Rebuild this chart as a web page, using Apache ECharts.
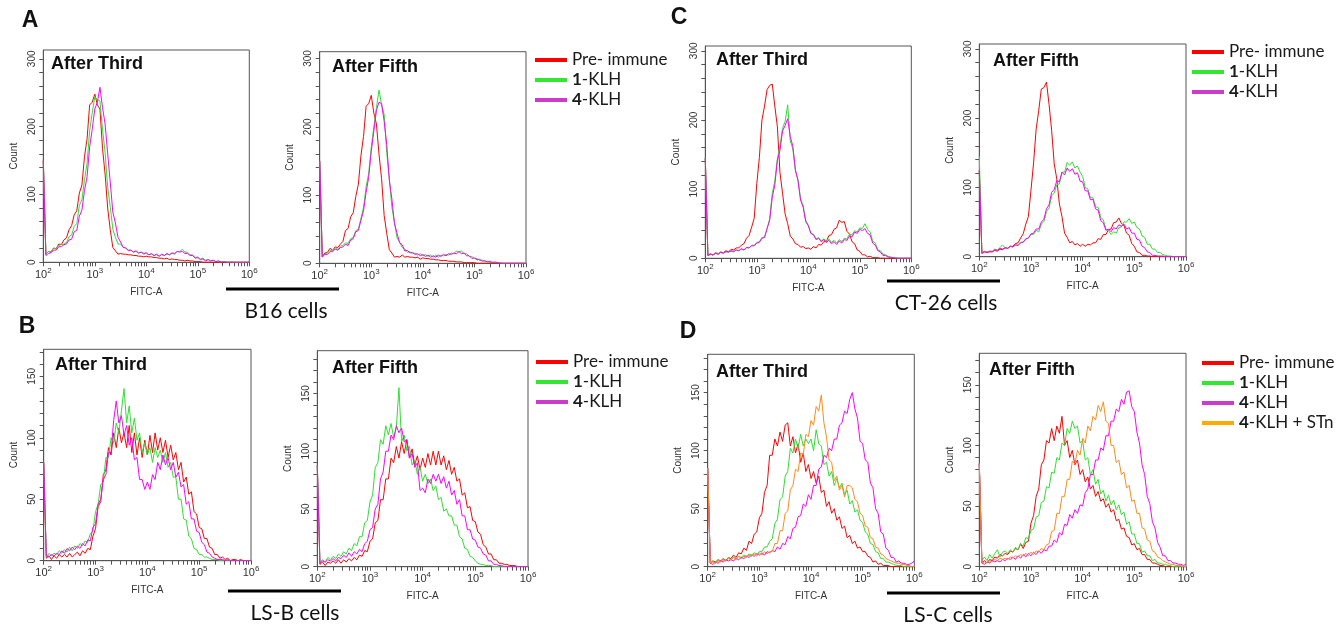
<!DOCTYPE html>
<html><head><meta charset="utf-8">
<script src="https://cdn.jsdelivr.net/npm/echarts@6/dist/echarts.min.js"></script>
<style>html,body{margin:0;padding:0;background:#fff;}#chart{width:1344px;height:627px;}</style>
</head><body><div id="chart"></div>
<script>
// Channel positions (log10 of FITC-A intensity)
const logChannels = [
2.00,2.05,2.10,2.15,2.20,2.25,2.30,2.35,2.40,2.45,
2.50,2.55,2.60,2.65,2.70,2.75,2.80,2.85,2.90,2.95,
3.00,3.05,3.10,3.15,3.20,3.25,3.30,3.35,3.40,3.45,
3.50,3.55,3.60,3.65,3.70,3.75,3.80,3.85,3.90,3.95,
4.00,4.05,4.10,4.15,4.20,4.25,4.30,4.35,4.40,4.45,
4.50,4.55,4.60,4.65,4.70,4.75,4.80,4.85,4.90,4.95,
5.00,5.05,5.10,5.15,5.20,5.25,5.30,5.35,5.40,5.45,
5.50,5.55,5.60,5.65,5.70,5.75,5.80,5.85,5.90,5.95,
6.00];
const xDecades = [2,3,4,5,6];
const countTicksHigh = [0,100,200,300];
const countTicksLow = [0,50,100,150];
const seriesNames = ['Pre- immune','1-KLH','4-KLH','4-KLH + STn'];
const panelTitles = ['After Third','After Fifth'];
const panelLetters = ['A','B','C','D'];
const cellLines = ['B16 cells','LS-B cells','CT-26 cells','LS-C cells'];

// A: B16 cells
const aThirdPre = [150,12,16,15,21,20,27,26,33,36, 48,54,70,76,102,114,156,182,232,236, 248,232,226,168,130,80,48,22,17,12, 13,12,12,11,11,10,10,9,9,8, 9,8,8,7,7,6,6,5,6,4, 5,4,4,3,3,2,3,2,2,1, 1,1,0,0,0,0,0,0,0,0, 0,0,0,0,0,0,0,0,0,0, 0];
const aThirdK1 = [150,12,16,15,21,20,25,26,27,29, 38,40,53,57,84,92,122,146,194,220, 244,240,238,196,162,111,82,49,37,27, 27,22,22,18,18,15,16,13,15,12, 13,11,12,10,11,9,11,10,12,11, 13,12,16,16,19,15,15,11,11,7, 8,5,6,3,4,2,3,1,2,1, 1,1,0,1,0,0,0,0,0,0, 0];
const aThirdK4 = [150,10,13,14,18,18,23,23,26,27, 33,34,45,47,68,77,106,126,170,196, 226,236,258,228,204,160,118,74,58,37, 30,22,21,17,18,15,17,14,15,13, 14,11,13,10,12,9,12,10,13,11, 14,13,16,15,16,13,13,10,10,6, 7,4,5,2,4,2,3,1,2,0, 1,0,0,0,0,0,0,0,0,0, 0];
const aFifthPre = [150,10,15,16,22,19,24,23,28,32, 48,51,68,74,98,116,158,186,230,234, 246,220,204,160,124,70,44,20,15,9, 10,9,12,9,10,9,9,8,9,6, 8,7,7,6,6,5,5,4,4,4, 3,3,3,2,2,2,1,1,1,1, 1,0,0,0,0,0,0,0,0,0, 0,0,0,0,0,0,0,0,0,0, 0];
const aFifthK1 = [150,10,14,15,19,19,23,20,25,26, 30,29,36,38,48,50,66,82,112,132, 170,200,228,254,232,218,162,124,82,60, 37,31,23,21,16,17,14,15,12,14, 11,13,10,12,9,12,9,12,11,13, 12,15,14,18,17,18,14,14,10,10, 7,7,4,5,2,3,1,2,1,1, 1,0,0,0,0,0,0,0,0,0, 0];
const aFifthK4 = [150,9,13,13,17,17,21,19,23,24, 28,26,34,36,46,48,63,77,104,126, 164,194,224,236,234,208,174,122,94,58, 44,30,27,18,19,15,16,13,14,11, 13,10,12,9,11,9,12,10,13,11, 14,13,15,14,17,14,15,11,11,7, 8,5,6,3,4,2,3,1,2,1, 0,0,0,0,0,0,0,0,0,0, 0];

// C: CT-26 cells
const cThirdPre = [145,4,6,5,8,6,9,8,11,9, 13,12,15,15,19,21,29,33,45,58, 108,146,200,220,244,250,252,220,190,124, 94,64,50,32,28,21,20,16,17,14, 15,13,17,15,20,19,24,24,33,34, 42,44,55,52,53,39,35,24,21,12, 10,5,5,2,3,1,1,1,0,0, 0,0,0,0,0,0,0,0,0,0, 0];
const cThirdK1 = [145,5,7,4,8,7,8,8,9,9, 10,9,12,11,13,12,15,15,19,19, 23,24,30,31,43,57,94,112,144,162, 188,198,222,170,158,126,114,86,76,55, 48,36,35,28,30,25,28,25,28,23, 26,22,27,24,29,28,35,34,40,38, 44,43,50,42,38,25,22,12,11,6, 5,3,2,1,1,0,0,0,0,0, 0];
const cThirdK4 = [145,4,6,5,7,6,9,7,10,9, 11,10,12,11,14,12,16,15,18,18, 22,23,29,30,43,55,88,106,142,156, 184,192,202,176,162,128,112,84,74,53, 47,36,34,27,29,24,27,23,26,21, 24,20,25,22,27,26,32,31,38,36, 42,40,43,36,34,22,19,11,9,4, 4,2,1,1,0,0,0,0,0,0, 0];
const cFifthPre = [125,5,7,6,7,7,9,8,11,10, 13,12,15,15,19,20,27,33,47,58, 96,135,184,211,242,244,252,220,182,134, 112,76,58,34,28,20,22,17,19,15, 18,15,18,17,20,20,26,25,32,32, 39,40,49,50,56,48,45,34,31,19, 15,7,6,2,2,1,1,0,0,0, 0,0,0,0,0,0,0,0,0,0, 0];
const cFifthK1 = [145,6,8,7,8,8,11,10,13,17, 13,12,15,14,17,17,21,21,25,27, 32,32,38,36,47,51,65,70,88,92, 104,105,122,122,136,132,137,128,131,122, 116,100,98,85,85,72,71,57,53,40, 38,32,36,34,42,43,50,50,55,48, 50,42,40,30,28,18,18,11,11,6, 6,3,2,1,1,0,0,0,0,0, 0];
const cFifthK4 = [125,5,7,6,8,7,10,9,12,11, 13,12,15,14,17,16,20,21,26,27, 33,34,40,40,50,54,69,75,93,97, 110,108,122,118,128,123,127,119,121,109, 108,95,95,82,83,69,67,52,49,38, 40,36,42,40,46,44,47,40,42,34, 34,25,24,15,13,7,6,2,2,1, 1,1,0,0,0,0,0,0,0,0, 0];

// B: LS-B cells
const bThirdPre = [80,2,4,1,4,2,5,3,5,3, 6,3,5,7,4,8,6,10,9,20, 26,44,48,70,74,92,86,104,92,108, 96,104,92,110,88,104,86,100,84,98, 86,102,88,104,90,100,88,98,84,94, 82,88,74,80,64,68,54,56,40,38, 27,26,18,18,11,10,5,5,2,3, 1,2,0,1,1,0,1,0,0,0, 0];
const bThirdK1 = [80,3,6,4,6,5,8,6,9,7, 11,8,12,10,14,12,16,15,22,24, 40,46,62,64,84,84,100,96,112,104, 122,140,112,126,104,116,98,104,88,96, 86,92,80,92,84,90,80,88,76,80, 68,68,50,50,34,33,20,18,10,9, 5,5,3,3,2,1,1,1,0,0, 0,0,0,0,0,0,0,0,0,0, 0];
const bThirdK4 = [80,4,3,5,4,6,5,8,6,10, 8,11,9,12,10,14,12,17,16,27, 30,46,50,66,70,88,88,114,130,112, 118,102,110,94,100,82,84,66,66,58, 64,58,70,66,80,74,86,78,84,74, 80,68,72,60,62,46,48,34,34,24, 23,15,13,7,6,3,2,1,1,1, 0,1,0,0,0,0,0,0,0,0, 0];
const bFifthPre = [88,2,4,1,4,3,5,3,6,3, 6,4,7,5,8,6,10,9,14,13, 22,24,38,40,58,58,76,76,94,90, 104,94,108,98,110,94,102,88,96,84, 94,86,98,88,100,88,100,88,96,84, 92,80,86,74,76,62,64,51,52,40, 39,30,28,19,17,11,11,6,6,3, 3,2,2,1,1,1,0,0,0,0, 0];
const bFifthK1 = [88,4,6,4,8,6,9,7,11,9, 13,11,16,14,20,18,26,26,38,40, 56,62,86,90,110,106,122,114,124,112, 120,155,108,114,100,104,88,92,80,86, 74,80,72,76,66,70,58,60,48,50, 44,44,36,36,26,24,16,15,9,8, 5,3,2,2,1,1,1,0,0,0, 0,0,0,0,0,0,0,0,0,0, 0];
const bFifthK4 = [88,3,5,4,6,5,7,5,8,7, 10,8,12,9,13,11,15,13,20,22, 32,34,50,54,76,82,100,100,114,110, 122,116,120,108,110,94,98,86,90,66, 68,64,76,72,80,74,80,72,78,68, 74,62,66,54,58,44,44,32,32,24, 23,17,16,11,10,5,5,2,2,1, 1,0,0,0,0,0,0,0,0,0, 0];

// D: LS-C cells
const dThirdPre = [85,3,5,4,6,5,7,5,8,7, 10,8,12,11,16,14,22,20,28,30, 42,46,64,70,96,96,110,104,116,108, 122,124,104,112,98,106,90,98,82,88, 76,82,72,78,64,66,52,56,46,50, 40,43,33,35,25,27,20,22,16,17, 13,13,9,8,4,5,2,3,1,1, 1,0,0,0,0,0,0,0,0,0, 0];
const dThirdK1 = [85,3,5,3,6,5,6,5,8,6, 8,7,9,8,10,9,11,10,12,11, 13,13,17,17,22,24,37,41,58,60, 78,82,102,98,110,102,114,104,110,106, 110,100,118,106,104,88,90,78,82,70, 76,68,72,62,66,54,57,47,49,40, 38,30,28,20,19,13,12,7,7,4, 4,3,2,1,1,1,0,0,0,0, 0];
const dThirdK4 = [85,3,2,4,3,5,4,6,5,6, 5,7,6,8,7,9,8,10,9,11, 10,12,10,13,12,14,13,17,15,20, 19,26,24,33,34,43,44,54,52,62, 58,70,70,84,86,96,94,102,100,110, 110,122,124,134,132,144,150,136,128,108, 106,92,90,72,68,50,46,30,28,16, 14,8,8,4,5,3,3,2,2,3, 5];
const dThirdK4S = [85,3,4,3,5,4,6,5,7,6, 8,6,9,7,9,8,10,9,11,9, 12,10,13,11,13,13,20,20,31,31, 46,48,66,70,84,82,98,96,114,112, 126,122,138,134,148,124,112,92,90,74, 78,66,70,60,70,70,68,58,56,46, 44,35,34,25,24,17,16,11,10,7, 6,5,4,3,3,2,2,1,1,0, 0];
const dFifthPre = [85,3,5,3,6,5,8,7,10,9, 11,10,13,12,15,14,19,15,20,21, 36,42,58,64,84,88,104,102,114,104, 116,110,124,100,104,90,96,84,88,76, 80,70,74,64,67,58,62,54,56,49, 52,45,47,38,39,31,32,25,24,18, 19,14,15,10,10,6,6,3,3,2, 1,1,0,0,0,0,0,0,0,0, 0];
const dFifthK1 = [85,5,8,5,10,7,11,14,8,12, 13,11,14,12,16,14,19,17,24,23, 30,31,41,42,53,54,66,65,78,77, 90,88,102,100,114,110,120,114,116,102, 104,88,90,76,80,68,72,60,63,54, 59,51,55,47,51,43,45,35,37,27, 27,19,19,12,13,9,9,5,6,3, 3,2,2,1,1,0,0,0,0,0, 0];
const dFifthK4 = [85,3,2,4,3,5,4,5,4,6, 5,7,6,8,6,9,7,10,8,11, 9,12,10,13,11,14,13,17,17,22, 20,28,26,35,34,43,40,47,44,51, 50,61,64,76,76,88,88,98,96,108, 108,120,120,130,128,138,134,144,145,132, 128,111,102,84,76,58,52,37,32,20, 16,9,9,5,5,3,3,2,2,1, 2];
const dFifthK4S = [85,3,4,3,5,4,6,5,7,6, 7,6,8,7,9,8,10,9,11,9, 12,10,13,12,15,14,18,19,29,30, 44,44,58,58,72,72,87,85,96,92, 106,102,116,112,124,121,133,128,136,120, 118,100,100,86,88,76,78,65,67,54, 55,44,44,32,31,22,21,13,12,8, 7,5,4,3,2,2,1,1,1,0, 0];

const lineColors = ['#ff0000','#2fe02f','#ff00ff','#ff8a1c'];
const legendColors = ['#ff0000','#33e633','#cc3ccc','#ffaa00'];

const panels = [
  {g:[43.3,50,206,212.3],   ymax:313, step:20, labels:countTicksHigh, title:panelTitles[0], tx:51,  ty:64,  data:[aThirdPre,aThirdK1,aThirdK4]},
  {g:[319.7,51.7,206.3,211.6], ymax:310, step:20, labels:countTicksHigh, title:panelTitles[1], tx:332, ty:67, data:[aFifthPre,aFifthK1,aFifthK4]},
  {g:[705.3,46,206,212.3],  ymax:307, step:20, labels:countTicksHigh, title:panelTitles[0], tx:716, ty:60,  data:[cThirdPre,cThirdK1,cThirdK4]},
  {g:[979.3,44,206.7,212.7],ymax:307, step:20, labels:countTicksHigh, title:panelTitles[1], tx:993, ty:61,  data:[cFifthPre,cFifthK1,cFifthK4]},
  {g:[43.7,349.3,207.3,211.4], ymax:172, step:10, labels:countTicksLow, title:panelTitles[0], tx:55, ty:365, data:[bThirdPre,bThirdK1,bThirdK4]},
  {g:[317.3,350.7,210.7,216],  ymax:187, step:10, labels:countTicksLow, title:panelTitles[1], tx:332, ty:368, data:[bFifthPre,bFifthK1,bFifthK4]},
  {g:[707.7,354.3,206.6,212.4], ymax:183, step:10, labels:countTicksLow, title:panelTitles[0], tx:716, ty:372, data:[dThirdPre,dThirdK1,dThirdK4,dThirdK4S]},
  {g:[979.3,353.3,206.7,213.4], ymax:176, step:10, labels:countTicksLow, title:panelTitles[1], tx:989, ty:370, data:[dFifthPre,dFifthK1,dFifthK4,dFifthK4S]}
];

const xTickValues = [];
for (let n = 2; n < 6; n++) for (let m = 1; m < 10; m++) xTickValues.push(n + Math.log10(m));
xTickValues.push(6);

const axisColor = '#555';
const tickFont = '"Liberation Sans", Arial, sans-serif';
const textFont = 'Lato, "Open Sans", sans-serif';

const grids = [], xAxes = [], yAxes = [], series = [], graphics = [];
panels.forEach((p, i) => {
  grids.push({left:p.g[0], top:p.g[1], width:p.g[2], height:p.g[3], show:true, borderColor:axisColor, borderWidth:1, containLabel:false});
  xAxes.push({
    type:'value', gridIndex:i, min:2, max:6,
    axisLine:{show:true, lineStyle:{color:axisColor, width:1}},
    axisTick:{show:true, length:4, lineStyle:{color:axisColor}, customValues:xTickValues},
    splitLine:{show:false},
    axisLabel:{show:true, margin:4, customValues:xDecades,
      formatter: v => '{n|10}{s|' + Math.round(v) + '}',
      rich:{n:{fontSize:11, fontFamily:tickFont, color:'#333', lineHeight:14, verticalAlign:'bottom'},
            s:{fontSize:8, fontFamily:tickFont, color:'#333', lineHeight:9, verticalAlign:'top'}}},
    name:'FITC-A', nameLocation:'middle', nameGap:25,
    nameTextStyle:{fontSize:10, fontFamily:tickFont, color:'#333'}
  });
  const yt = [];
  for (let v = 0; v <= p.ymax; v += p.step) yt.push(v);
  yAxes.push({
    type:'value', gridIndex:i, min:0, max:p.ymax,
    axisLine:{show:true, lineStyle:{color:axisColor, width:1}},
    axisTick:{show:true, length:4, lineStyle:{color:axisColor}, customValues:yt},
    splitLine:{show:false},
    axisLabel:{show:true, rotate:90, margin:6, customValues:p.labels, fontSize:10, fontFamily:tickFont, color:'#333'},
    name:'Count', nameLocation:'middle', nameRotate:90, nameGap:24,
    nameTextStyle:{fontSize:10, fontFamily:tickFont, color:'#333'}
  });
  p.data.forEach((vals, k) => {
    series.push({
      type:'line', name:seriesNames[k], xAxisIndex:i, yAxisIndex:i,
      data: logChannels.map((x, j) => [x, vals[j]]),
      showSymbol:false, symbol:'none', smooth:false, clip:true,
      lineStyle:{color:lineColors[k], width:1}, itemStyle:{color:lineColors[k]},
      silent:true
    });
  });
  graphics.push({type:'text', x:p.tx, y:p.ty, silent:true,
    style:{text:p.title, fontSize:18, fontWeight:'bold', fontFamily:tickFont, fill:'#111', align:'left', verticalAlign:'middle'}});
});

// panel letters
const letterPos = [[30,21],[27,327],[679,18],[688,332]];
panelLetters.forEach((t, i) => graphics.push({type:'text', x:letterPos[i][0], y:letterPos[i][1],
  style:{text:t, fontSize:23, fontWeight:'bold', fontFamily:tickFont, fill:'#111', align:'center', verticalAlign:'middle'}}));

// cell-line bars and labels
const cellPos = [
  {bar:[226,287.5,113], txt:[286,311]},
  {bar:[228,589.5,113], txt:[295,613]},
  {bar:[887,279.5,113], txt:[946,303]},
  {bar:[887,591.5,113], txt:[948,615]}
];
cellLines.forEach((t, i) => {
  const c = cellPos[i];
  graphics.push({type:'rect', shape:{x:c.bar[0], y:c.bar[1], width:c.bar[2], height:3}, style:{fill:'#000'}});
  graphics.push({type:'text', x:c.txt[0], y:c.txt[1],
    style:{text:t, fontSize:21, fontFamily:textFont, fill:'#111', align:'center', verticalAlign:'middle'}});
});

function legendItems(n) {
  return seriesNames.slice(0, n).map((nm, k) => ({name:nm, itemStyle:{color:legendColors[k]}}));
}
const legendBase = {
  orient:'vertical', icon:'rect', itemWidth:32, itemHeight:4, itemGap:0, padding:0,
  selectedMode:false,
  formatter: nm => nm.replace(/^(\d)/, '{b|$1}'),
  textStyle:{fontSize:17, fontFamily:textFont, color:'#1a1a1a', lineHeight:20,
    rich:{b:{fontSize:17, fontWeight:'bold', fontFamily:textFont, color:'#1a1a1a', lineHeight:20}}}
};
const legends = [
  Object.assign({}, legendBase, {left:535, top:50, data:legendItems(3)}),
  Object.assign({}, legendBase, {left:536, top:352, data:legendItems(3)}),
  Object.assign({}, legendBase, {left:1192, top:42, data:legendItems(3)}),
  Object.assign({}, legendBase, {left:1202, top:353, data:legendItems(4)})
];

const chart = echarts.init(document.getElementById('chart'), null, {renderer:'canvas'});
chart.setOption({
  animation:false,
  backgroundColor:'#fff',
  grid:grids, xAxis:xAxes, yAxis:yAxes, series:series,
  legend:legends,
  graphic:graphics
});
</script>
</body></html>
